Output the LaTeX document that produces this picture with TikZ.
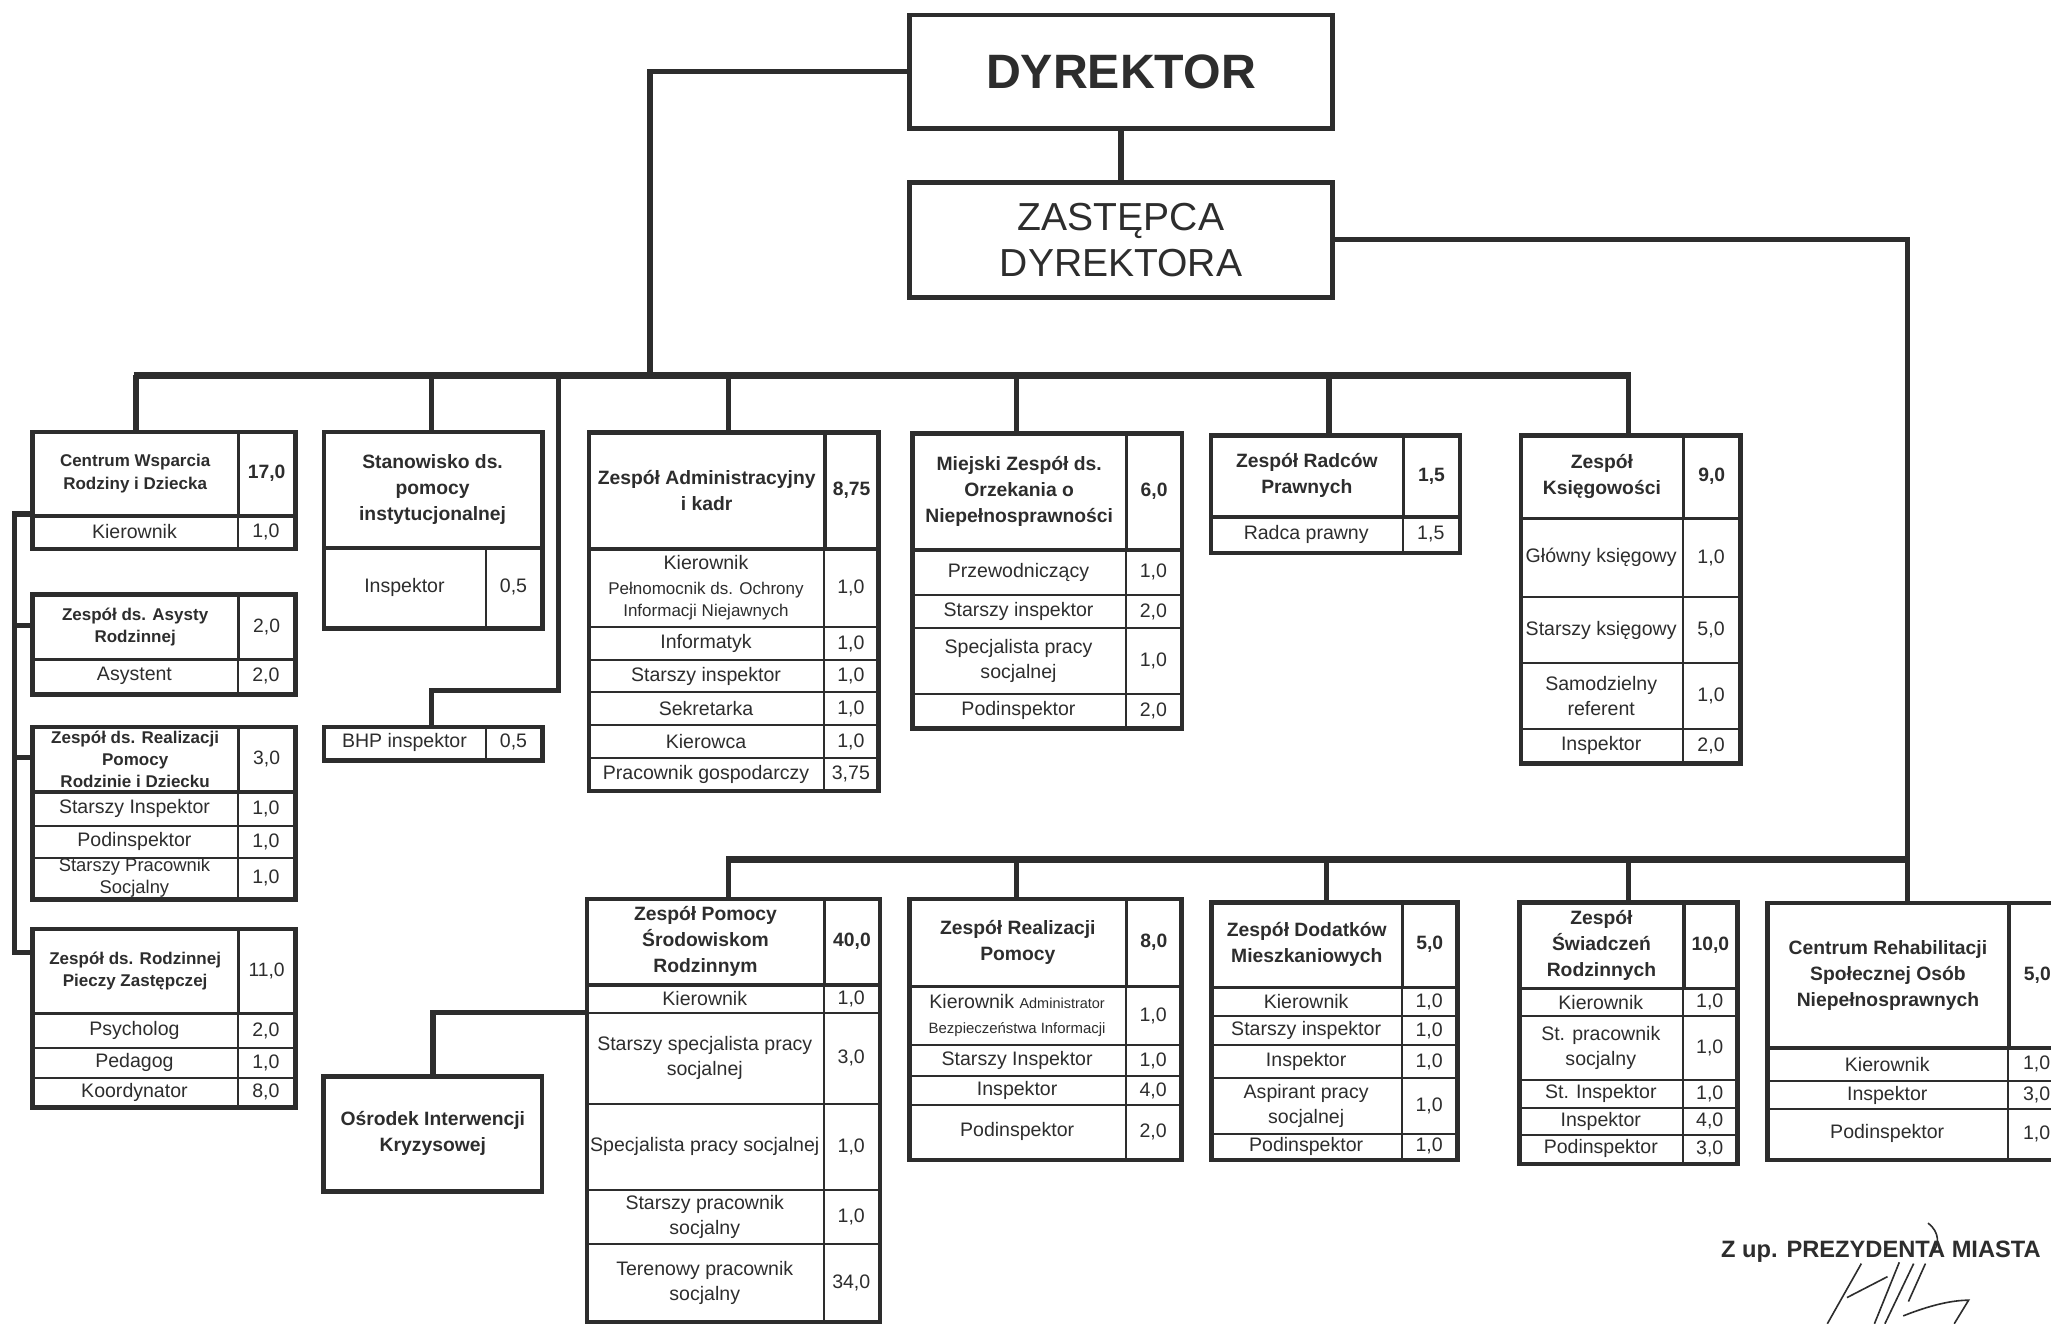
\documentclass[tikz,border=0pt]{standalone}
\usepackage{fontspec}
\setmainfont{Liberation Sans}
\usetikzlibrary{calc}
\definecolor{ink}{RGB}{45,45,45}
\newcommand{\rowf}{\fontsize{8.5}{10.8}\selectfont}
\newcommand{\hdrf}{\fontsize{8.4}{11.3}\selectfont\bfseries}
\newcommand{\lhf}{\fontsize{7.4}{9.6}\selectfont\bfseries}
\newcommand{\smf}{\fontsize{7.4}{9.6}\selectfont}
\newcommand{\mdf}{\fontsize{8}{9.6}\selectfont}
\tikzset{
  cell/.style={draw=ink, line width=0.9pt, inner sep=0pt, align=center, text=ink, font=\rowf, anchor=north west},
  hcell/.style={cell, line width=1.5pt, font=\hdrf},
  outer/.style={draw=ink, line width=2pt, inner sep=0pt, anchor=north west},
  conn/.style={draw=ink, line width=2.3pt, line join=miter},
  thickbar/.style={draw=ink, line width=3.2pt},
}
% [opts]{name}{x0}{y0}{x1}{y1}{text}
\newcommand{\cellnode}[7][]{\node[cell,#1,minimum width={(#5-#3)*0.02cm},minimum height={(#6-#4)*0.02cm}] (#2) at (#3,#4) {#7};}
% [opts]{name}{x0}{xd}{x1}{y0}{y1}{text}{value}
\newcommand{\hdrpair}[9][]{\cellnode[hcell,#1]{#2t}{#3}{#6}{#4}{#7}{#8}\cellnode[hcell]{#2v}{#4}{#6}{#5}{#7}{#9}}
\newcommand{\rowpair}[9][]{\cellnode[#1]{#2t}{#3}{#6}{#4}{#7}{#8}\cellnode{#2v}{#4}{#6}{#5}{#7}{#9}}
% {name}{x0}{y0}{x1}{y1}
\newcommand{\outerbox}[5]{\node[outer,minimum width={(#4-#2)*0.02cm},minimum height={(#5-#3)*0.02cm}] (#1) at (#2,#3) {};}

\begin{document}
\begin{tikzpicture}[x=0.02cm,y=-0.02cm]
\useasboundingbox (0,0) rectangle (1568,1012);
\fill[white] (0,0) rectangle (1568,1012);
\clip (0,0) rectangle (1568,1012);

% ---------- top ----------
\cellnode[line width=2pt, font=\fontsize{21}{24}\selectfont\bfseries]{dyr}{693.5}{9.7}{1017}{96.3}{DYREKTOR}
\cellnode[line width=2pt, font=\fontsize{17}{20}\selectfont]{zas}{693.5}{137.6}{1017}{225.5}{ZASTĘPCA\\DYREKTORA}

% ---------- left column ----------
\hdrpair[font=\lhf]{cw}{23}{181}{224}{328.5}{393}{Centrum Wsparcia\\Rodziny i Dziecka}{17,0}
\rowpair{cwk}{23}{181}{224}{393}{418}{Kierownik}{1,0}
\outerbox{cwo}{23}{328.5}{224}{418}

\hdrpair[font=\lhf]{as}{23}{181}{224}{452.5}{503}{Zespół ds. Asysty\\Rodzinnej}{\mdseries 2,0}
\rowpair{as1}{23}{181}{224}{503}{529}{Asystent}{2,0}
\outerbox{aso}{23}{452.5}{224}{529}

\hdrpair[font=\lhf]{rz}{23}{181}{224}{554}{604}{Zespół ds. Realizacji\\Pomocy\\Rodzinie i Dziecku}{\mdseries 3,0}
\rowpair{rz1}{23}{181}{224}{604}{630.5}{Starszy Inspektor}{1,0}
\rowpair{rz2}{23}{181}{224}{630.5}{655}{Podinspektor}{1,0}
\rowpair[font=\mdf]{rz3}{23}{181}{224}{655}{686}{Starszy Pracownik\\Socjalny}{1,0}
\outerbox{rzo}{23}{554}{224}{686}

\hdrpair[font=\lhf]{rp}{23}{181}{224}{708.5}{773.6}{Zespół ds. Rodzinnej\\Pieczy Zastępczej}{\mdseries 11,0}
\rowpair{rp1}{23}{181}{224}{773.6}{800.4}{Psycholog}{2,0}
\rowpair{rp2}{23}{181}{224}{800.4}{823}{Pedagog}{1,0}
\rowpair{rp3}{23}{181}{224}{823}{845}{Koordynator}{8,0}
\outerbox{rpo}{23}{708.5}{224}{845}

% ---------- Stanowisko / BHP ----------
\cellnode[hcell]{st}{246}{328.5}{412.8}{417.5}{Stanowisko ds.\\pomocy\\instytucjonalnej}
\rowpair{st1}{246}{370.8}{412.8}{417.5}{478.6}{Inspektor}{0,5}
\outerbox{sto}{246}{328.5}{412.8}{478.6}

\rowpair{bhp}{246}{370.8}{412.8}{554}{579.5}{BHP inspektor}{0,5}
\outerbox{bhpo}{246}{554}{412.8}{579.5}

% ---------- Zespol Administracyjny ----------
\hdrpair{ad}{448.5}{629.4}{670}{329}{418.4}{Zespół Administracyjny\\i kadr}{8,75}
\rowpair{ad1}{448.5}{629.4}{670}{418.4}{478.7}{Kierownik\\{\smf Pełnomocnik ds. Ochrony}\\[-1.2pt]{\smf Informacji Niejawnych}}{1,0}
\rowpair{ad2}{448.5}{629.4}{670}{478.7}{503.6}{Informatyk}{1,0}
\rowpair{ad3}{448.5}{629.4}{670}{503.6}{528.4}{Starszy inspektor}{1,0}
\rowpair{ad4}{448.5}{629.4}{670}{528.4}{553.5}{Sekretarka}{1,0}
\rowpair{ad5}{448.5}{629.4}{670}{553.5}{579}{Kierowca}{1,0}
\rowpair{ad6}{448.5}{629.4}{670}{579}{603}{Pracownik gospodarczy}{3,75}
\outerbox{ado}{448.5}{329}{670}{603}

% ---------- Miejski Zespol ----------
\hdrpair{mz}{695.7}{860}{902}{329.5}{419}{Miejski Zespół ds.\\Orzekania o\\Niepełnosprawności}{6,0}
\rowpair{mz1}{695.7}{860}{902}{419}{454}{Przewodniczący}{1,0}
\rowpair{mz2}{695.7}{860}{902}{454}{479.5}{Starszy inspektor}{2,0}
\rowpair{mz3}{695.7}{860}{902}{479.5}{530}{Specjalista pracy\\socjalnej}{1,0}
\rowpair{mz4}{695.7}{860}{902}{530}{555}{Podinspektor}{2,0}
\outerbox{mzo}{695.7}{329.5}{902}{555}

% ---------- Radcow ----------
\hdrpair{rd}{924}{1071.6}{1114.5}{331}{394}{Zespół Radców\\Prawnych}{1,5}
\rowpair{rd1}{924}{1071.6}{1114.5}{394}{421}{Radca prawny}{1,5}
\outerbox{rdo}{924}{331}{1114.5}{421}

% ---------- Ksiegowosci ----------
\hdrpair{ks}{1161}{1285.6}{1329}{331}{395}{Zespół\\Księgowości}{9,0}
\rowpair{ks1}{1161}{1285.6}{1329}{395}{455.8}{Główny księgowy}{1,0}
\rowpair{ks2}{1161}{1285.6}{1329}{455.8}{506}{Starszy księgowy}{5,0}
\rowpair{ks3}{1161}{1285.6}{1329}{506}{556.6}{Samodzielny\\referent}{1,0}
\rowpair{ks4}{1161}{1285.6}{1329}{556.6}{581.8}{Inspektor}{2,0}
\outerbox{kso}{1161}{331}{1329}{581.8}

% ---------- Zespol Pomocy ----------
\hdrpair{zp}{447}{629}{671}{685.5}{751.6}{Zespół Pomocy\\Środowiskom\\Rodzinnym}{40,0}
\rowpair{zp1}{447}{629}{671}{751.6}{773.4}{Kierownik}{1,0}
\rowpair{zp2}{447}{629}{671}{773.4}{843}{Starszy specjalista pracy\\socjalnej}{3,0}
\rowpair{zp3}{447}{629}{671}{843}{909}{Specjalista pracy socjalnej}{1,0}
\rowpair{zp4}{447}{629}{671}{909}{950.4}{Starszy pracownik\\socjalny}{1,0}
\rowpair{zp5}{447}{629}{671}{950.4}{1009}{Terenowy pracownik\\socjalny}{34,0}
\outerbox{zpo}{447}{685.5}{671}{1009}

\cellnode[hcell,line width=2pt]{osr}{245.7}{821}{412.6}{909}{Ośrodek Interwencji\\Kryzysowej}

% ---------- Zespol Realizacji Pomocy ----------
\hdrpair{zr}{693.6}{860}{901.6}{685.5}{753}{Zespół Realizacji\\Pomocy}{8,0}
\rowpair{zr1}{693.6}{860}{901.6}{753}{798}{Kierownik {\fontsize{6.3}{8}\selectfont Administrator}\\{\fontsize{6.5}{8}\selectfont Bezpieczeństwa Informacji}}{1,0}
\rowpair{zr2}{693.6}{860}{901.6}{798}{822}{Starszy Inspektor}{1,0}
\rowpair{zr3}{693.6}{860}{901.6}{822}{844}{Inspektor}{4,0}
\rowpair{zr4}{693.6}{860}{901.6}{844}{885}{Podinspektor}{2,0}
\outerbox{zro}{693.6}{685.5}{901.6}{885}

% ---------- Zespol Dodatkow ----------
\hdrpair{zd}{924.5}{1071}{1112.5}{688}{753.8}{Zespół Dodatków\\Mieszkaniowych}{5,0}
\rowpair{zd1}{924.5}{1071}{1112.5}{753.8}{776}{Kierownik}{1,0}
\rowpair{zd2}{924.5}{1071}{1112.5}{776}{798}{Starszy inspektor}{1,0}
\rowpair{zd3}{924.5}{1071}{1112.5}{798}{823.4}{Inspektor}{1,0}
\rowpair{zd4}{924.5}{1071}{1112.5}{823.4}{866}{Aspirant pracy\\socjalnej}{1,0}
\rowpair{zd5}{924.5}{1071}{1112.5}{866}{885}{Podinspektor}{1,0}
\outerbox{zdo}{924.5}{688}{1112.5}{885}

% ---------- Zespol Swiadczen ----------
\hdrpair{zs}{1160}{1286}{1326.6}{688}{754.5}{Zespół\\Świadczeń\\Rodzinnych}{10,0}
\rowpair{zs1}{1160}{1286}{1326.6}{754.5}{776}{Kierownik}{1,0}
\rowpair{zs2}{1160}{1286}{1326.6}{776}{825}{St. pracownik\\socjalny}{1,0}
\rowpair{zs3}{1160}{1286}{1326.6}{825}{846}{St. Inspektor}{1,0}
\rowpair{zs4}{1160}{1286}{1326.6}{846}{867}{Inspektor}{4,0}
\rowpair{zs5}{1160}{1286}{1326.6}{867}{888}{Podinspektor}{3,0}
\outerbox{zso}{1160}{688}{1326.6}{888}

% ---------- Centrum Rehabilitacji ----------
\hdrpair{cr}{1349.5}{1534.5}{1578}{688.6}{800}{Centrum Rehabilitacji\\Społecznej Osób\\Niepełnosprawnych}{5,0}
\rowpair{cr1}{1349.5}{1534.5}{1578}{800}{825.7}{Kierownik}{1,0}
\rowpair{cr2}{1349.5}{1534.5}{1578}{825.7}{847}{Inspektor}{3,0}
\rowpair{cr3}{1349.5}{1534.5}{1578}{847}{885}{Podinspektor}{1,0}
\outerbox{cro}{1349.5}{688.6}{1578}{885}

% ---------- connectors ----------
\coordinate (dj) at (497,287);
\coordinate (tb1) at (104,287);
\coordinate (tb2) at (330,287);
\coordinate (tb3) at (427,287);
\coordinate (tb4) at (557,287);
\coordinate (tb5) at (777,287);
\coordinate (tb6) at (1016,287);
\coordinate (tb7) at (1245,287);
\coordinate (sb1) at (557,657);
\coordinate (sb2) at (777,657);
\coordinate (sb3) at (1014,657);
\coordinate (sb4) at (1245,657);
\coordinate (sb5) at (1458,657);
\coordinate (bk1) at (427,528);
\coordinate (bk2) at (330,528);
\coordinate (lc1) at (11,393);
\coordinate (lc2) at (11,478);
\coordinate (lc3) at (11,579);
\coordinate (lc4) at (11,728);
\coordinate (os1) at (331,774);

\draw[conn] (dyr.west) -| (dj);
\draw[conn] (dyr.south) -- (zas.north);
\draw[conn] (zas.east) -| (sb5);
\draw[thickbar] ([xshift=-1.1pt]tb1) -- ([xshift=1.1pt]tb7);
\draw[conn] (tb1) -- (tb1 |- cwo.north);
\draw[conn] (tb2) -- (tb2 |- sto.north);
\draw[conn] (tb3) -- (bk1) -- (bk2) -- (bk2 |- bhpo.north);
\draw[conn] (tb4) -- (tb4 |- ado.north);
\draw[conn] (tb5) -- (tb5 |- mzo.north);
\draw[conn] (tb6) -- (tb6 |- rdo.north);
\draw[conn] (tb7) -- (tb7 |- kso.north);
\draw[conn, line width=2.8pt] ([xshift=-1.1pt]sb1) -- (sb5);
\draw[conn] (sb1) -- (sb1 |- zpo.north);
\draw[conn] (sb2) -- (sb2 |- zro.north);
\draw[conn] (sb3) -- (sb3 |- zdo.north);
\draw[conn] (sb4) -- (sb4 |- zso.north);
\draw[conn] (sb5) -- (sb5 |- cro.north);
\draw[conn] (lc1 -| cwo.west) -- (lc1) -- (lc4) -- (lc4 -| rpo.west);
\draw[conn] (lc2) -- (lc2 -| aso.west);
\draw[conn] (lc3) -- (lc3 -| rzo.west);
\draw[conn] (os1 -| zpo.west) -- (os1) -- (os1 |- osr.north);

% ---------- signature ----------
\node[text=ink, font=\fontsize{10.3}{12}\selectfont\bfseries, inner sep=0pt] (sig) at (1438,957) {Z up. PREZYDENTA MIASTA};
\draw[ink, line width=0.7pt] (1474,935) .. controls (1483,942) and (1483,952) .. (1477,958);
\draw[ink, line width=0.7pt] (1423,966) -- (1397,1012);
\draw[ink, line width=0.7pt] (1452,965) -- (1433,1012);
\draw[ink, line width=0.7pt] (1463,966) -- (1441,1012);
\draw[ink, line width=0.7pt] (1472,966) -- (1459,995);
\draw[ink, line width=0.7pt] (1412,992) -- (1443,976);
\draw[ink, line width=0.7pt] (1455,1006) .. controls (1475,998) and (1492,994) .. (1505,994) -- (1494,1012);
\end{tikzpicture}
\end{document}
